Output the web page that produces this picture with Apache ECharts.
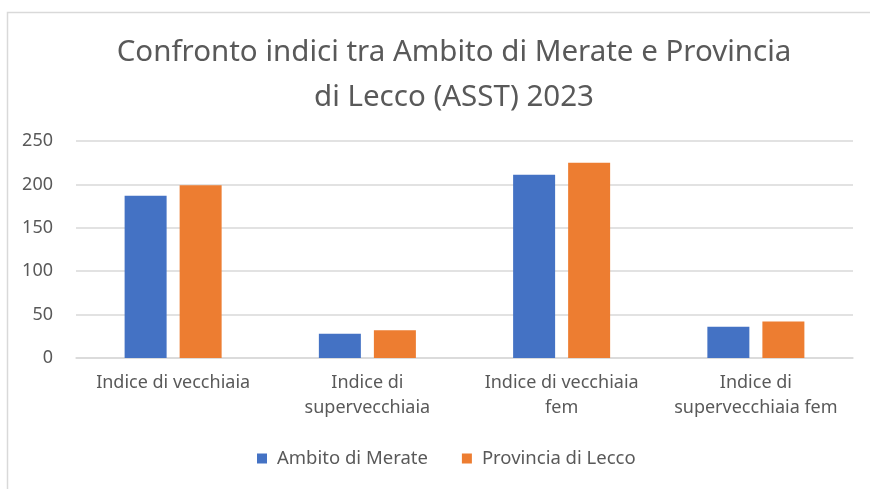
<!DOCTYPE html>
<html>
<head>
<meta charset="utf-8">
<script src="https://cdn.jsdelivr.net/npm/echarts@6/dist/echarts.min.js"></script>
<style>
  html, body { margin: 0; padding: 0; background: #fff; }
  #chart { width: 870px; height: 489px; }
</style>
</head>
<body>
<div id="chart"></div>
<script>
var categories = ['Indice di vecchiaia', 'Indice di\nsupervecchiaia', 'Indice di vecchiaia\nfem', 'Indice di\nsupervecchiaia fem'];
var merate = [187, 28, 211, 36];
var lecco = [199, 32, 225, 42];
var seriesNames = ['Ambito di Merate', 'Provincia di Lecco'];
var yTicks = [0, 50, 100, 150, 200, 250];

var font = '"Noto Sans", "Open Sans", sans-serif';
var textGray = '#595959';

var myChart = echarts.init(document.getElementById('chart'));
var option = {
    color: ['#4472C4', '#ED7D31'],
    animation: false,
    graphic: [{
        type: 'rect',
        shape: { x: 7.5, y: 12.5, width: 900, height: 500 },
        style: { fill: 'none', stroke: '#d9d9d9', lineWidth: 1.5 }
    }],
    title: {
        text: 'Confronto indici tra Ambito di Merate e Provincia\ndi Lecco (ASST) 2023',
        left: 449,
        top: 25,
        textAlign: 'center',
        textStyle: {
            fontFamily: font,
            fontSize: 29.5,
            fontWeight: 'normal',
            color: textGray,
            lineHeight: 45
        }
    },
    legend: {
        data: seriesNames,
        left: 252,
        top: 444,
        icon: 'rect',
        itemWidth: 10,
        itemHeight: 10,
        itemGap: 34,
        textStyle: { fontFamily: font, fontSize: 18.5, color: textGray, padding: [0, 0, 0, 5] }
    },
    grid: { left: 76, right: 17, top: 141, bottom: 131 },
    xAxis: {
        type: 'category',
        data: categories,
        axisLine: { lineStyle: { color: '#d9d9d9', width: 1.5 } },
        axisTick: { show: false },
        axisLabel: {
            interval: 0,
            margin: 12,
            fontFamily: font,
            fontSize: 18,
            color: textGray,
            lineHeight: 25
        }
    },
    yAxis: {
        type: 'value',
        min: yTicks[0],
        max: yTicks[yTicks.length - 1],
        interval: 50,
        axisLine: { show: false },
        axisTick: { show: false },
        splitLine: { lineStyle: { color: '#d9d9d9', width: 1.5 } },
        axisLabel: { margin: 23, fontFamily: font, fontSize: 18, color: textGray }
    },
    series: [
        { name: seriesNames[0], type: 'bar', data: merate, barWidth: 42, barGap: '31%' },
        { name: seriesNames[1], type: 'bar', data: lecco, barWidth: 42, barGap: '31%' }
    ]
};
myChart.setOption(option);
</script>
</body>
</html>
